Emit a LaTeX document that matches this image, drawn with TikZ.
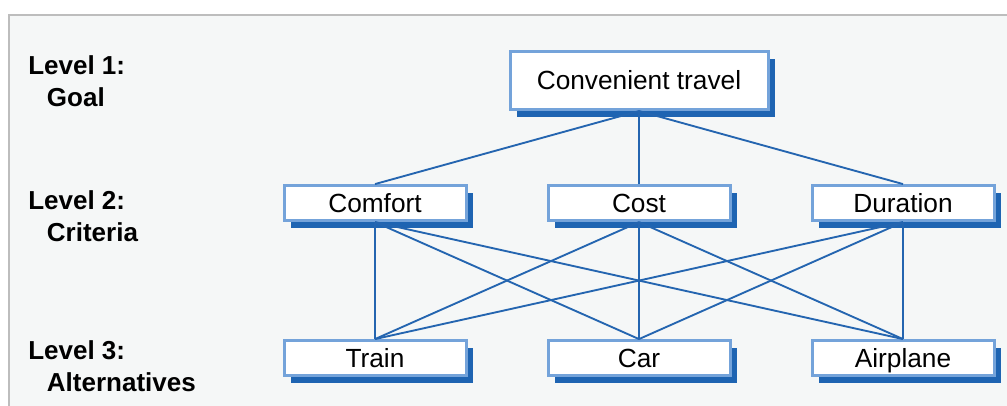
\documentclass[tikz,border=0pt]{standalone}
\usepackage{fontspec}
\setmainfont{Liberation Sans}
\usetikzlibrary{positioning,shadows}
\definecolor{panelfill}{HTML}{F5F7F7}
\definecolor{panelline}{HTML}{BDBDBD}
\definecolor{boxline}{HTML}{74A3DA}
\definecolor{boxshadow}{HTML}{1E64B2}
\definecolor{edgeblue}{HTML}{2465B0}

\begin{document}
\begin{tikzpicture}[auto,node distance=198pt,
    main node/.style={rectangle,draw=boxline,line width=2.25pt,fill=white,
      minimum width=136.5pt,minimum height=26.25pt,inner sep=0pt,
      text height=14pt,text depth=0pt,
      font=\fontsize{19.7}{24}\selectfont,
      drop shadow={shadow xshift=5.5pt,shadow yshift=-5.5pt,fill=boxshadow,opacity=1}},
    goal node/.style={main node,minimum width=193.5pt,minimum height=43.5pt},
    level label/.style={anchor=north west,inner sep=0pt,align=left,
      font=\bfseries\fontsize{19.5}{24}\selectfont}]

    \useasboundingbox (0,0) rectangle (755.25pt,-303.75pt);
    \draw[draw=panelline,line width=1.5pt,fill=panelfill]
      (6.75pt,-11.6pt) rectangle (770pt,-320pt);

    % Level captions
    \node[level label] (l1) at (21pt,-41.25pt) {Level 1:\\\hspace*{14pt}Goal};
    \node[level label] (l2) at (21pt,-142.5pt) {Level 2:\\\hspace*{14pt}Criteria};
    \node[level label] (l3) at (21pt,-255pt) {Level 3:\\\hspace*{14pt}Alternatives};

    \node[goal node] (0) at (479.25pt,-60.4pt) {Convenient travel};

    % Criteria
    \node[main node] (2) [below of=0,node distance=91.9pt] {Cost};
    \node[main node] (1) [left of=2] {Comfort};
    \node[main node] (3) [right of=2] {Duration};

    % Alternatives
    \node[main node] (5) [below of=2,node distance=116.25pt] {Car};
    \node[main node] (4) [left of=5] {Train};
    \node[main node] (6) [right of=5] {Airplane};

    \path[every edge/.style={draw=edgeblue,line width=1.4pt}]
    % Goal to criteria
    (0.south) edge (1.north)
    edge (2.north)
    edge (3.north)
    % Criteria to alternatives
    (1.south) edge (4.north)
    edge (5.north)
    edge (6.north)
    (2.south) edge (4.north)
    edge (5.north)
    edge (6.north)
    (3.south) edge (4.north)
    edge (5.north)
    edge (6.north);
\end{tikzpicture}
\end{document}
